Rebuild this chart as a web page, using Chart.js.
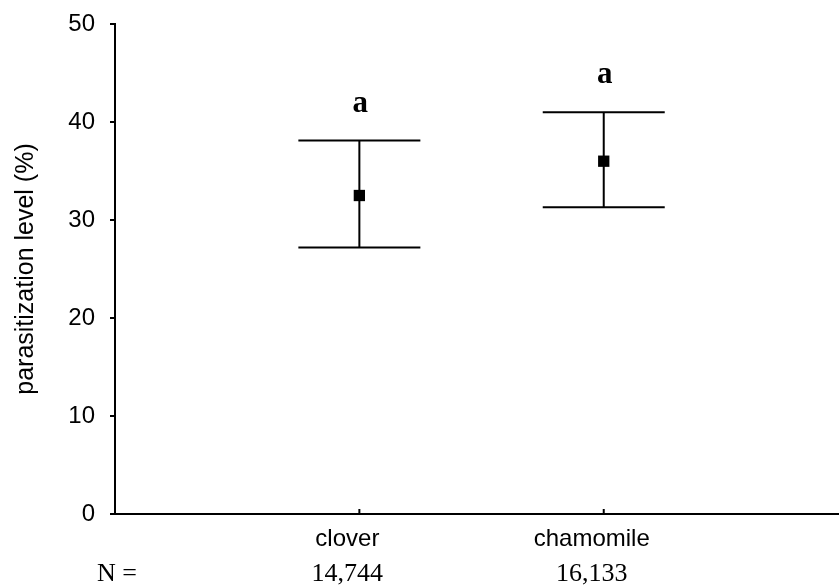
<!DOCTYPE html>
<html>
<head>
<meta charset="utf-8">
<script src="https://cdn.jsdelivr.net/npm/chart.js@4/dist/chart.umd.min.js"></script>
<style>
  html, body { margin: 0; padding: 0; background: #fff; overflow: hidden; }
  #wrap { width: 839px; height: 586px; position: relative; }
</style>
</head>
<body>
<div id="wrap"><canvas id="chart"></canvas></div>
<script>
// values
const categories = ['clover', 'chamomile'];
const means = [32.5, 36.0];
const lowerBounds = [27.2, 31.3];
const upperBounds = [38.1, 41.0];
const sampleSizes = ['14,744', '16,133'];
const groupLetters = ['a', 'a'];
const yTicks = [0, 10, 20, 30, 40, 50];

const ctx = document.getElementById('chart').getContext('2d');

// error bars, letters, small inward x ticks and the N row
const extras = {
  id: 'extras',
  beforeDatasetsDraw(chart) {
    const c = chart.ctx;
    const xs = chart.scales.x;
    const ys = chart.scales.y;
    c.save();
    c.strokeStyle = '#000';
    c.lineWidth = 2;
    categories.forEach((cat, i) => {
      const x = xs.getPixelForValue(i + 1);
      const lo = ys.getPixelForValue(lowerBounds[i]);
      const hi = ys.getPixelForValue(upperBounds[i]);
      c.beginPath();
      c.moveTo(x, lo); c.lineTo(x, hi);
      c.moveTo(x - 61, lo); c.lineTo(x + 61, lo);
      c.moveTo(x - 61, hi); c.lineTo(x + 61, hi);
      c.stroke();
    });
    c.restore();
  },
  afterDraw(chart) {
    const c = chart.ctx;
    const xs = chart.scales.x;
    const ys = chart.scales.y;
    const area = chart.chartArea;
    const bottom = area.bottom;
    c.save();
    c.fillStyle = '#000';
    c.strokeStyle = '#000';
    c.lineWidth = 2;
    // x axis runs on to the right edge of the figure
    c.beginPath();
    c.moveTo(area.right - 1, bottom);
    c.lineTo(chart.width, bottom);
    c.stroke();
    c.textAlign = 'center';
    c.textBaseline = 'middle';
    categories.forEach((cat, i) => {
      const x = xs.getPixelForValue(i + 1);
      // tick pointing up into the plot
      c.beginPath();
      c.moveTo(x, bottom);
      c.lineTo(x, bottom - 5);
      c.stroke();
      // letter above the upper bar
      c.font = 'bold 31px "Liberation Serif", "Times New Roman", serif';
      c.fillText(groupLetters[i], x + 1, ys.getPixelForValue(upperBounds[i]) - 37);
      // sample size
      c.font = '26px "Liberation Serif", "Times New Roman", serif';
      c.fillText(sampleSizes[i], x - 12, 574);
    });
    c.font = '26px "Liberation Serif", "Times New Roman", serif';
    c.fillText('N =', area.left + 2, 574);
    c.restore();
  }
};

new Chart(ctx, {
  type: 'scatter',
  data: {
    datasets: [{
      data: means.map((m, i) => ({ x: i + 1, y: m })),
      pointStyle: 'rect',
      pointRadius: 8,
      pointHoverRadius: 8,
      backgroundColor: '#000',
      borderWidth: 0
    }]
  },
  options: {
    responsive: true,
    maintainAspectRatio: false,
    animation: false,
    layout: { padding: { top: 24, right: 0, left: 0, bottom: 0 } },
    plugins: { legend: { display: false }, tooltip: { enabled: false } },
    scales: {
      x: {
        type: 'linear',
        min: 0,
        max: 2.93,
        afterBuildTicks: (scale) => { scale.ticks = categories.map((c, i) => ({ value: i + 1 })); },
        afterFit: (scale) => {
          scale.height = 72;
          scale.paddingLeft = 0;
          scale.paddingRight = 0;
        },
        grid: { display: false },
        border: { display: true, color: '#000', width: 2 },
        ticks: {
          color: '#000',
          font: { family: 'Arial, "Liberation Sans", sans-serif', size: 24 },
          padding: 3,
          labelOffset: -12,
          autoSkip: false,
          maxRotation: 0,
          callback: (v) => categories[v - 1]
        }
      },
      y: {
        min: 0,
        max: 50,
        afterBuildTicks: (scale) => { scale.ticks = yTicks.map(v => ({ value: v })); },
        afterFit: (scale) => {
          scale.width = 115;
          scale.paddingTop = 0;
          scale.paddingBottom = 0;
        },
        grid: { drawOnChartArea: false, color: '#000', lineWidth: 2, tickLength: 5 },
        border: { display: true, color: '#000', width: 2 },
        ticks: {
          color: '#000',
          font: { family: 'Arial, "Liberation Sans", sans-serif', size: 24 },
          padding: 15
        },
        title: {
          display: true,
          text: 'parasitization level (%)',
          color: '#000',
          font: { family: 'Arial, "Liberation Sans", sans-serif', size: 25 },
          padding: { top: 11, bottom: 0 }
        }
      }
    }
  },
  plugins: [extras]
});
</script>
</body>
</html>
